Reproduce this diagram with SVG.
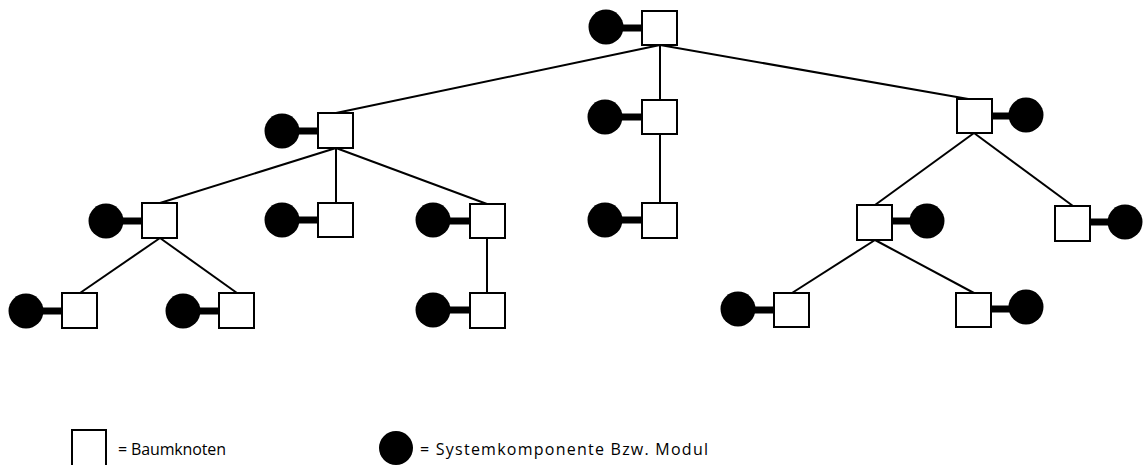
<svg xmlns="http://www.w3.org/2000/svg" width="1143" height="465" viewBox="0 0 1143 465">
<style>
.sq{fill:#fff;stroke:#000;stroke-width:2}
.dot{fill:#000}
.lk{stroke:#000;stroke-width:7}
.edge{stroke:#000;stroke-width:2;fill:none}
.lbl{font-family:"Open Sans","Liberation Sans",sans-serif;font-size:16px;fill:#000}
</style>
<rect width="1143" height="465" fill="#fff"/>
<g id="connectors">
<line class="edge" x1="660" y1="45" x2="336" y2="113"/>
<line class="edge" x1="660" y1="45" x2="660" y2="100"/>
<line class="edge" x1="660" y1="45" x2="974" y2="100"/>
<line class="edge" x1="336" y1="148" x2="160" y2="203"/>
<line class="edge" x1="336" y1="148" x2="336" y2="203"/>
<line class="edge" x1="336" y1="148" x2="487" y2="204"/>
<line class="edge" x1="660" y1="134" x2="660" y2="203"/>
<line class="edge" x1="974" y1="133" x2="875" y2="205"/>
<line class="edge" x1="974" y1="133" x2="1073" y2="206"/>
<line class="edge" x1="160" y1="238" x2="80" y2="293"/>
<line class="edge" x1="160" y1="238" x2="237" y2="293"/>
<line class="edge" x1="487" y1="238" x2="487" y2="293"/>
<line class="edge" x1="875" y1="240" x2="792" y2="293"/>
<line class="edge" x1="875" y1="240" x2="974" y2="293"/>
</g>
<g id="n-root"><line class="lk" x1="606" y1="28" x2="642" y2="28"/><circle class="dot" cx="606" cy="27" r="17.5"/><rect class="sq" x="642" y="11" width="35" height="34"/></g>
<g id="n-l1a"><line class="lk" x1="282" y1="131" x2="318" y2="131"/><circle class="dot" cx="282" cy="131" r="17.5"/><rect class="sq" x="318" y="113" width="35" height="35"/></g>
<g id="n-l1b"><line class="lk" x1="605" y1="117" x2="642" y2="117"/><circle class="dot" cx="605" cy="117" r="17.5"/><rect class="sq" x="642" y="100" width="35" height="34"/></g>
<g id="n-l1c"><line class="lk" x1="991" y1="116" x2="1026" y2="116"/><circle class="dot" cx="1026" cy="115" r="17.5"/><rect class="sq" x="957" y="99" width="35" height="34"/></g>
<g id="n-l2a"><line class="lk" x1="106" y1="221" x2="142" y2="221"/><circle class="dot" cx="106" cy="221" r="17.5"/><rect class="sq" x="142" y="203" width="35" height="35"/></g>
<g id="n-l2b"><line class="lk" x1="282" y1="220" x2="318" y2="220"/><circle class="dot" cx="282" cy="220" r="17.5"/><rect class="sq" x="318" y="203" width="35" height="34"/></g>
<g id="n-l2c"><line class="lk" x1="433" y1="221" x2="470" y2="221"/><circle class="dot" cx="433" cy="220" r="17.5"/><rect class="sq" x="470" y="204" width="35" height="34"/></g>
<g id="n-l2d"><line class="lk" x1="605" y1="220" x2="642" y2="220"/><circle class="dot" cx="605" cy="220" r="17.5"/><rect class="sq" x="642" y="203" width="35" height="35"/></g>
<g id="n-l2e"><line class="lk" x1="892" y1="221" x2="927" y2="221"/><circle class="dot" cx="927" cy="221" r="17.5"/><rect class="sq" x="857" y="205" width="35" height="35"/></g>
<g id="n-l2f"><line class="lk" x1="1090" y1="222" x2="1125" y2="222"/><circle class="dot" cx="1125" cy="222" r="17.5"/><rect class="sq" x="1055" y="206" width="35" height="35"/></g>
<g id="n-l3a"><line class="lk" x1="26" y1="311" x2="62" y2="311"/><circle class="dot" cx="26" cy="311" r="17.5"/><rect class="sq" x="62" y="293" width="35" height="35"/></g>
<g id="n-l3b"><line class="lk" x1="183" y1="311" x2="219" y2="311"/><circle class="dot" cx="183" cy="311" r="17.5"/><rect class="sq" x="219" y="293" width="35" height="35"/></g>
<g id="n-l3c"><line class="lk" x1="433" y1="310" x2="470" y2="310"/><circle class="dot" cx="433" cy="310" r="17.5"/><rect class="sq" x="470" y="293" width="35" height="35"/></g>
<g id="n-l3d"><line class="lk" x1="738" y1="310" x2="774" y2="310"/><circle class="dot" cx="738" cy="309" r="17.5"/><rect class="sq" x="774" y="293" width="35" height="34"/></g>
<g id="n-l3e"><line class="lk" x1="991" y1="309" x2="1026" y2="309"/><circle class="dot" cx="1026" cy="307" r="17.5"/><rect class="sq" x="956" y="293" width="35" height="34"/></g>
<g id="legend-node"><rect class="sq" x="72" y="430" width="34" height="37"/><text class="lbl" x="118" y="455" textLength="108">= Baumknoten</text></g>
<g id="legend-module"><circle class="dot" cx="396" cy="448" r="17"/><text class="lbl" x="420" y="455" textLength="288">= Systemkomponente Bzw. Modul</text></g>
</svg>
